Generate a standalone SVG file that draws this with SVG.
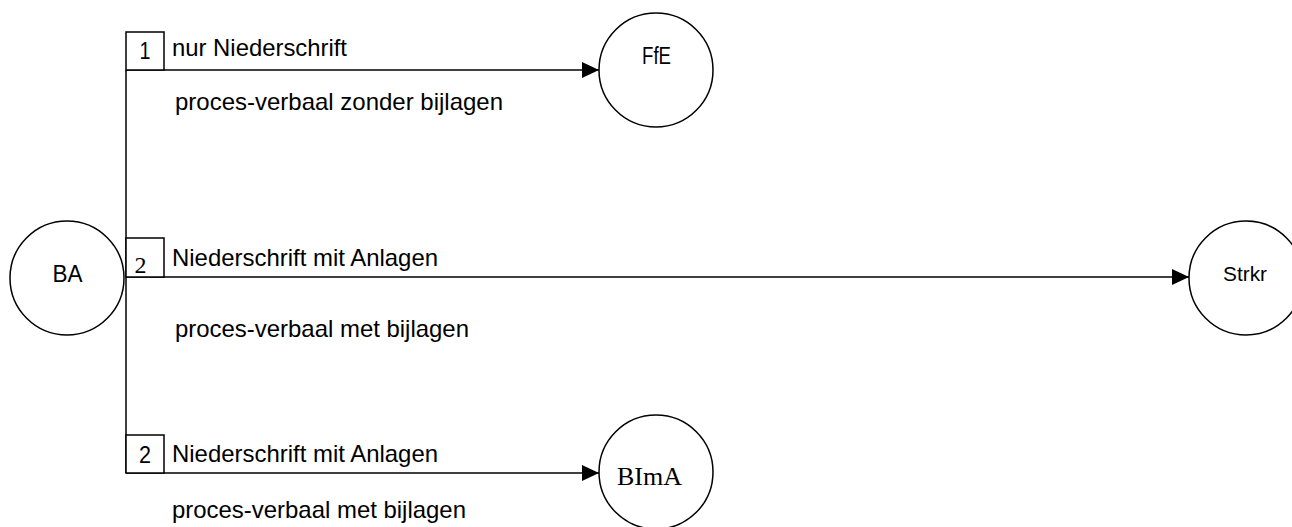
<svg xmlns="http://www.w3.org/2000/svg" width="1292" height="527" viewBox="0 0 1292 527">
<style>
text{font-family:"Liberation Sans",Arial,sans-serif;font-size:24px;fill:#000}
.serif{font-family:"Liberation Serif","Times New Roman",serif}
.node{fill:#fff;stroke:#000;stroke-width:1.5}
.line{fill:none;stroke:#000;stroke-width:1.5}
.box{fill:#fff;stroke:#000;stroke-width:1.5}
</style>
<defs>
<marker id="arr" markerWidth="17" markerHeight="16" refX="17" refY="8" orient="auto" markerUnits="userSpaceOnUse">
<path d="M0,0 L17,8 L0,16 Z" fill="#000"/>
</marker>
</defs>
<rect width="1292" height="527" fill="#fff"/>
<g id="connectors">
<line class="line" x1="126" y1="70" x2="126" y2="473"/>
<line class="line" x1="126" y1="70" x2="599" y2="70" marker-end="url(#arr)"/>
<line class="line" x1="126" y1="277" x2="1189" y2="277" marker-end="url(#arr)"/>
<line class="line" x1="126" y1="473" x2="599" y2="473" marker-end="url(#arr)"/>
<g id="label1">
<rect class="box" x="126" y="32" width="38" height="38"/>
<text x="145" y="59" text-anchor="middle" textLength="11" lengthAdjust="spacingAndGlyphs">1</text>
<text x="172" y="55.5" textLength="175" lengthAdjust="spacingAndGlyphs">nur Niederschrift</text>
<text x="175" y="110" textLength="328" lengthAdjust="spacingAndGlyphs">proces-verbaal zonder bijlagen</text>
</g>
<g id="label2">
<rect class="box" x="126" y="238" width="38" height="39"/>
<text class="serif" x="140.5" y="273" text-anchor="middle" style="font-size:24px">2</text>
<text x="172" y="266" textLength="266" lengthAdjust="spacingAndGlyphs">Niederschrift mit Anlagen</text>
<text x="175" y="337" textLength="294" lengthAdjust="spacingAndGlyphs">proces-verbaal met bijlagen</text>
</g>
<g id="label3">
<rect class="box" x="126" y="435" width="38" height="38"/>
<text x="145" y="463" text-anchor="middle" textLength="12" lengthAdjust="spacingAndGlyphs">2</text>
<text x="172" y="462" textLength="266" lengthAdjust="spacingAndGlyphs">Niederschrift mit Anlagen</text>
<text x="172" y="518" textLength="294" lengthAdjust="spacingAndGlyphs">proces-verbaal met bijlagen</text>
</g>
</g>
<g id="BA">
<circle class="node" cx="67" cy="278" r="57"/>
<text x="67.5" y="282" text-anchor="middle" textLength="30" lengthAdjust="spacingAndGlyphs">BA</text>
</g>
<g id="FfE">
<circle class="node" cx="656" cy="70" r="57"/>
<text x="656.5" y="64" text-anchor="middle" textLength="29" lengthAdjust="spacingAndGlyphs" style="font-size:23px">FfE</text>
</g>
<g id="Strkr">
<circle class="node" cx="1246" cy="278" r="57"/>
<text x="1245" y="281" text-anchor="middle" textLength="44" lengthAdjust="spacingAndGlyphs" style="font-size:21px">Strkr</text>
</g>
<g id="BImA">
<circle class="node" cx="656" cy="472" r="57"/>
<text class="serif" x="649.5" y="485" text-anchor="middle" textLength="65" lengthAdjust="spacingAndGlyphs" style="font-size:26px">BImA</text>
</g>
</svg>
